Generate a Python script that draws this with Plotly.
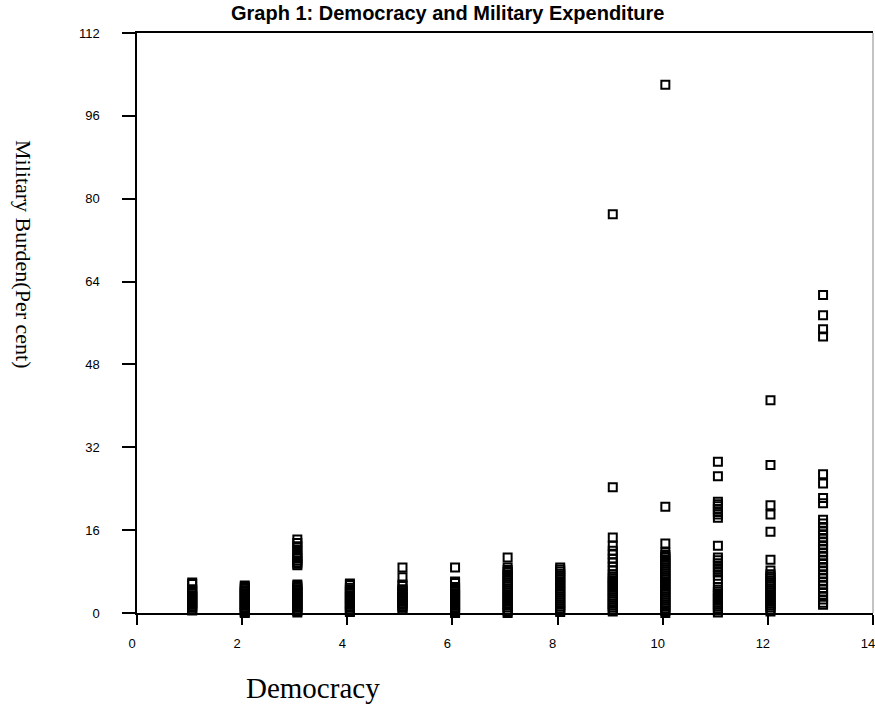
import plotly.graph_objects as go

# Democracy score (x) and military burden values (y, per cent)
burden_d1 = [5.9, 5.6, 4.6, 4.3, 4.0, 3.7, 3.4, 3.1, 2.8, 2.5, 2.2, 1.9, 1.6, 1.3, 1.0, 0.7, 0.5, -0.3]
burden_d2 = [5.3, 5.0, 4.7, 4.4, 4.1, 3.8, 3.5, 3.2, 2.9, 2.6, 2.3, 2.0, 1.7, 1.4, 1.1, 0.8, 0.5, 0.2, 0.0]
burden_d3 = [14.2, 13.5, 12.9, 12.2, 11.6, 11.0, 10.6, 10.2, 9.8, 9.5, 9.2,
             5.5, 5.2, 4.9, 4.6, 4.3, 4.0, 3.7, 3.4, 3.1, 2.8, 2.5, 2.2, 1.9, 1.6, 1.3, 1.0, 0.7, 0.4, 0.1]
burden_d4 = [5.7, 5.4, 4.9, 4.6, 4.3, 4.0, 3.7, 3.4, 3.1, 2.8, 2.5, 2.2, 1.9, 1.6, 1.3, 1.0, 0.7, 0.4, 0.2]
burden_d5 = [8.8, 6.9, 5.5, 5.2, 4.6, 4.3, 4.0, 3.7, 3.4, 3.1, 2.8, 2.5, 2.2, 1.9, 1.6, 1.3, 1.0, 0.7]
burden_d6 = [8.8, 6.1, 5.8, 5.0, 4.7, 4.4, 4.1, 3.8, 3.5, 3.2, 2.9, 2.6, 2.3, 2.0, 1.7, 1.4, 1.1, 0.8, 0.5, 0.2, 0.0]
burden_d7 = [10.7, 8.8, 8.3, 7.9, 7.5, 7.1, 6.7, 6.3, 5.9, 5.5, 5.1, 4.7, 4.3, 3.9, 3.5, 3.1, 2.7, 2.3,
             1.9, 1.5, 1.1, 0.7, 0.3, 0.0]
burden_d8 = [8.8, 8.4, 8.0, 7.6, 7.2, 6.8, 6.4, 6.0, 5.6, 5.2, 4.8, 4.4, 4.0, 3.6, 3.2, 2.8, 2.4, 2.0,
             1.6, 1.2, 0.8, 0.5, 0.2]
burden_d9 = [77.0, 24.3, 14.6, 13.0, 12.0, 11.3, 10.5, 9.8, 9.0, 8.2, 7.5, 7.0, 6.6, 6.2, 5.8, 5.4, 5.0,
             4.6, 4.2, 3.8, 3.4, 3.0, 2.6, 2.2, 1.8, 1.4, 1.0, 0.6, 0.3]
burden_d10 = [102.0, 20.5, 13.4, 11.7, 11.2, 10.8, 10.4, 10.0, 9.6, 9.2, 8.8, 8.4, 8.0, 7.6, 7.2, 6.8,
              6.4, 6.0, 5.6, 5.2, 4.8, 4.4, 4.0, 3.6, 3.2, 2.8, 2.4, 2.0, 1.6, 1.2, 0.8, 0.4, 0.0]
burden_d11 = [29.2, 26.4, 21.5, 21.0, 20.6, 20.1, 19.5, 19.0, 18.4, 13.0, 10.7, 10.2, 9.6, 9.0, 8.4,
              7.8, 7.2, 6.5, 5.0, 4.5, 4.1, 3.7, 3.3, 2.9, 2.5, 2.1, 1.7, 1.3, 0.9, 0.5, 0.1]
burden_d12 = [41.1, 28.6, 20.8, 19.0, 15.7, 10.3, 8.2, 7.5, 7.1, 6.7, 6.3, 5.9, 5.5, 5.1, 4.7, 4.3,
              3.9, 3.5, 3.1, 2.7, 2.3, 1.9, 1.5, 1.1, 0.7, 0.3]
burden_d13 = [61.4, 57.5, 54.8, 53.4, 26.8, 25.0, 22.2, 21.2, 18.0, 17.3, 16.6, 15.9, 15.2, 14.5,
              13.8, 13.1, 12.4, 11.7, 11.0, 10.3, 9.6, 8.9, 8.2, 7.5, 6.8, 6.1, 5.4, 4.7, 4.0,
              3.3, 2.6, 2.0, 1.6]

democracy_levels = [1, 2, 3, 4, 5, 6, 7, 8, 9, 10, 11, 12, 13]
burden_columns = [burden_d1, burden_d2, burden_d3, burden_d4, burden_d5, burden_d6, burden_d7,
                  burden_d8, burden_d9, burden_d10, burden_d11, burden_d12, burden_d13]

x_ticks = [0, 2, 4, 6, 8, 10, 12, 14]
y_ticks = [0, 16, 32, 48, 64, 80, 96, 112]

xs, ys = [], []
for d, col in zip(democracy_levels, burden_columns):
    for v in col:
        xs.append(d)
        ys.append(v)

fig = go.Figure()
# empty trace so the visible axis pair is drawn
fig.add_trace(go.Scatter(x=[], y=[], xaxis="x", yaxis="y", hoverinfo="skip", showlegend=False))
# markers are drawn on an overlaid axis nudged slightly, as in the original
fig.add_trace(go.Scatter(
    x=xs, y=ys, mode="markers", xaxis="x2", yaxis="y",
    marker=dict(symbol="square-open", size=8, color="black", line=dict(width=2, color="black")),
    cliponaxis=False, hoverinfo="skip", showlegend=False,
))

tick_font = dict(family="Liberation Sans, Arial, sans-serif", size=13, color="black")
fig.update_layout(
    width=875, height=704,
    margin=dict(l=137, r=2, t=33, b=91, autoexpand=False),
    plot_bgcolor="white", paper_bgcolor="white",
    xaxis=dict(range=[0, 14], tickvals=x_ticks, ticktext=[str(t) for t in x_ticks],
               showgrid=False, zeroline=False, showline=True, linecolor="black", linewidth=1.5,
               ticks="outside", ticklen=10, tickwidth=1.5, tickcolor="black", automargin=False,
               mirror=True, tickfont=tick_font, ticklabelstandoff=8, ticklabelshift=-5,
               ticklabeloverflow="allow"),
    xaxis2=dict(range=[-0.05, 13.95], overlaying="x", visible=False, automargin=False),
    yaxis=dict(range=[0, 112], tickvals=y_ticks, ticktext=[str(t) for t in y_ticks],
               showgrid=False, zeroline=False, showline=True, linecolor="black", linewidth=1.5,
               ticks="outside", ticklen=13, tickwidth=1.5, tickcolor="black", automargin=False,
               tickfont=tick_font, ticklabelstandoff=20),
    shapes=[dict(type="line", xref="paper", yref="paper", x0=1, x1=1, y0=0, y1=1,
                 line=dict(color="#888888", width=1))],
    annotations=[
        dict(text="<b>Graph 1: Democracy and Military Expenditure</b>", xref="paper", yref="paper",
             x=(447 - 137) / 736, y=1, yshift=20, xanchor="center", yanchor="middle", showarrow=False,
             font=dict(family="Liberation Sans Narrow, Arial Narrow, Liberation Sans, Arial", size=20, color="black")),
        dict(text="Democracy", xref="paper", yref="paper", x=(313 - 137) / 736, y=0, yshift=-75,
             xanchor="center", yanchor="middle", showarrow=False,
             font=dict(family="Liberation Serif, Times New Roman, serif", size=29, color="black")),
        dict(text="Military Burden(Per cent)", xref="paper", yref="paper", x=0, xshift=-113,
             y=(613 - 254) / 580, xanchor="center", yanchor="middle", textangle=90, showarrow=False,
             font=dict(family="Liberation Serif, Times New Roman, serif", size=22, color="black")),
    ],
)

fig.write_html("out.html", config={"displayModeBar": False},
               post_script="document.body.style.margin='0';document.body.style.padding='0';")
